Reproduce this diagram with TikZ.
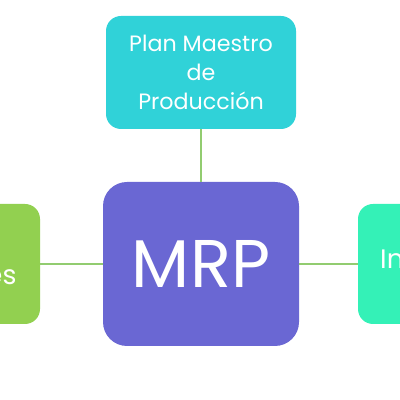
\documentclass[tikz,border=0pt]{standalone}
\usepackage{fontspec}
\setmainfont{Poppins}
\usepackage{tikz}
\usetikzlibrary{positioning}
\definecolor{cplan}{RGB}{48,210,216}
\definecolor{cmrp}{RGB}{106,103,211}
\definecolor{clista}{RGB}{146,208,80}
\definecolor{cinv}{RGB}{52,241,183}
\definecolor{clink}{RGB}{146,204,112}

\begin{document}
\begin{tikzpicture}[
    box/.style={rounded corners=0.375cm, align=center, text=white, inner sep=0pt},
    sidebox/.style={box, minimum height=3.0cm, text depth=0.3cm,
          font=\fontsize{19}{23}\selectfont},
    link/.style={draw=clink, line width=1pt}]
    \useasboundingbox (0,0) rectangle (10,10);
    \clip (0,0) rectangle (10,10);
    \node[box, fill=cplan, minimum width=4.75cm, minimum height=2.825cm,
          font=\fontsize{15.8}{20.6}\selectfont] (plan) at (5.025,8.1875)
         {Plan Maestro\\de\\Producción};
    \node[box, fill=cmrp, rounded corners=0.6cm, minimum width=4.9cm,
          minimum height=4.1cm, font=\fontsize{48}{55}\selectfont] (mrp) at (5.025,3.4)
         {MRP};
    \node[sidebox, fill=clista, minimum width=4.65cm] (lista) at (-1.325,3.4)
         {Lista de\\Materiales};
    \node[sidebox, fill=cinv, minimum width=4.8cm] (inv) at (11.35,3.4)
         {Inventarios};
    \draw[link] (plan) -- (mrp);
    \draw[link] (lista) -- (mrp);
    \draw[link] (mrp) -- (inv);
  \end{tikzpicture}
\end{document}
